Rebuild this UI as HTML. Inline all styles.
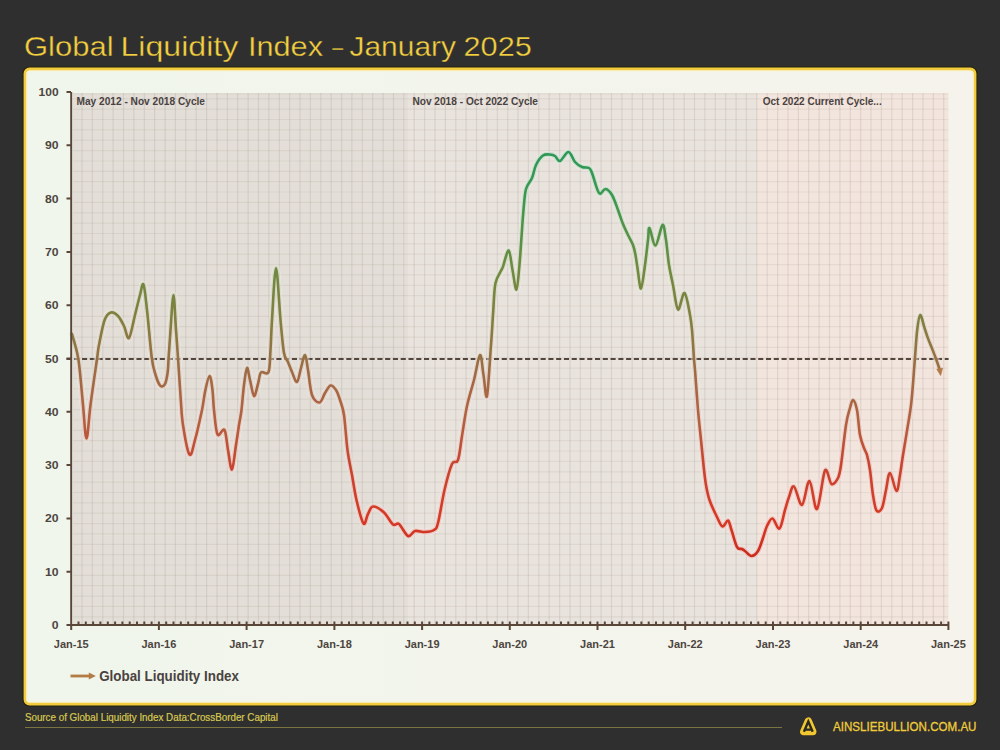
<!DOCTYPE html>
<html><head><meta charset="utf-8">
<style>
html,body{margin:0;padding:0;width:1000px;height:750px;overflow:hidden;background:#2f2f2f;}
svg{position:absolute;left:0;top:0;display:block;}
text{font-family:"Liberation Sans",sans-serif;}
</style></head><body>
<svg width="1000" height="750" viewBox="0 0 1000 750">
<defs>
<linearGradient id="pg" x1="0" y1="0" x2="1" y2="0"><stop offset="0" stop-color="#f0f6ec"/><stop offset="0.5" stop-color="#f3f5ec"/><stop offset="1" stop-color="#f5f3ec"/></linearGradient>
<linearGradient id="lg" gradientUnits="userSpaceOnUse" x1="0" y1="92.0" x2="0" y2="625.0">
<stop offset="0.10" stop-color="#2a9858"/>
<stop offset="0.20" stop-color="#3c9850"/>
<stop offset="0.33" stop-color="#6f8a40"/>
<stop offset="0.42" stop-color="#808040"/>
<stop offset="0.53" stop-color="#a06a45"/>
<stop offset="0.62" stop-color="#b46040"/>
<stop offset="0.70" stop-color="#c84430"/>
<stop offset="0.80" stop-color="#d63a26"/>
<stop offset="0.88" stop-color="#c82a1c"/>
</linearGradient>
</defs>
<g font-size="28" fill="#f4d040" stroke="#2f2f2f" stroke-width="0.35">
<text x="24.0" y="55.5" textLength="89.6" lengthAdjust="spacingAndGlyphs">Global</text>
<text x="120.4" y="55.5" textLength="118" lengthAdjust="spacingAndGlyphs">Liquidity</text>
<text x="247.9" y="55.5" textLength="75.2" lengthAdjust="spacingAndGlyphs">Index</text>
<text x="332.2" y="55.5" textLength="10.9" lengthAdjust="spacingAndGlyphs">–</text>
<text x="349.5" y="55.5" textLength="106.5" lengthAdjust="spacingAndGlyphs">January</text>
<text x="463.5" y="55.5" textLength="68.3" lengthAdjust="spacingAndGlyphs">2025</text>
</g>
<rect x="25" y="69" width="950" height="635" rx="4.5" fill="none" stroke="#25230c" stroke-width="5"/>
<rect x="25" y="69" width="950" height="635" rx="4.5" fill="url(#pg)" stroke="#f2cc3c" stroke-width="2.8"/>
<rect x="27" y="71" width="946" height="631" rx="3" fill="none" stroke="#fbf3cf" stroke-width="1.2"/>
<rect x="73" y="93" width="335" height="532" fill="#e3dfd8"/>
<rect x="408" y="93" width="349" height="532" fill="#e9e3dd"/>
<rect x="757" y="93" width="191.4" height="532" fill="#f2e5dd"/>
<path d="M82.0,93V625M92.4,93V625M102.8,93V625M113.1,93V625M123.5,93V625M133.9,93V625M144.3,93V625M154.7,93V625M165.1,93V625M175.4,93V625M185.8,93V625M196.2,93V625M206.6,93V625M217.0,93V625M227.3,93V625M237.7,93V625M248.1,93V625M258.5,93V625M268.9,93V625M279.3,93V625M289.6,93V625M300.0,93V625M310.4,93V625M320.8,93V625M331.2,93V625M341.6,93V625M351.9,93V625M362.3,93V625M372.7,93V625M383.1,93V625M393.5,93V625M403.8,93V625M414.2,93V625M424.6,93V625M435.0,93V625M445.4,93V625M455.8,93V625M466.1,93V625M476.5,93V625M486.9,93V625M497.3,93V625M507.7,93V625M518.0,93V625M528.4,93V625M538.8,93V625M549.2,93V625M559.6,93V625M570.0,93V625M580.3,93V625M590.7,93V625M601.1,93V625M611.5,93V625M621.9,93V625M632.2,93V625M642.6,93V625M653.0,93V625M663.4,93V625M673.8,93V625M684.2,93V625M694.5,93V625M704.9,93V625M715.3,93V625M725.7,93V625M736.1,93V625M746.4,93V625M756.8,93V625M767.2,93V625M777.6,93V625M788.0,93V625M798.4,93V625M808.7,93V625M819.1,93V625M829.5,93V625M839.9,93V625M850.3,93V625M860.7,93V625M871.0,93V625M881.4,93V625M891.8,93V625M902.2,93V625M912.6,93V625M922.9,93V625M933.3,93V625M943.7,93V625" stroke="#705850" stroke-width="1.2" fill="none" opacity="0.125"/>
<path d="M73,616.8H948.4M73,606.4H948.4M73,596.1H948.4M73,585.7H948.4M73,575.4H948.4M73,565.0H948.4M73,554.6H948.4M73,544.3H948.4M73,533.9H948.4M73,523.6H948.4M73,513.2H948.4M73,502.8H948.4M73,492.5H948.4M73,482.1H948.4M73,471.8H948.4M73,461.4H948.4M73,451.0H948.4M73,440.7H948.4M73,430.3H948.4M73,420.0H948.4M73,409.6H948.4M73,399.2H948.4M73,388.9H948.4M73,378.5H948.4M73,368.2H948.4M73,357.8H948.4M73,347.4H948.4M73,337.1H948.4M73,326.7H948.4M73,316.4H948.4M73,306.0H948.4M73,295.6H948.4M73,285.3H948.4M73,274.9H948.4M73,264.6H948.4M73,254.2H948.4M73,243.8H948.4M73,233.5H948.4M73,223.1H948.4M73,212.8H948.4M73,202.4H948.4M73,192.0H948.4M73,181.7H948.4M73,171.3H948.4M73,161.0H948.4M73,150.6H948.4M73,140.2H948.4M73,129.9H948.4M73,119.5H948.4M73,109.2H948.4M73,98.8H948.4M73,94H948.4" stroke="#705850" stroke-width="1.2" fill="none" opacity="0.09"/>
<g font-size="10.5" font-weight="bold" fill="#4a4240">
<text x="76.5" y="104.7" textLength="128.5" lengthAdjust="spacingAndGlyphs">May 2012 - Nov 2018 Cycle</text>
<text x="412.4" y="104.7" textLength="125.6" lengthAdjust="spacingAndGlyphs">Nov 2018 - Oct 2022 Cycle</text>
<text x="762.7" y="104.7" textLength="119" lengthAdjust="spacingAndGlyphs">Oct 2022 Current Cycle...</text>
</g>
<path d="M66.5,359H948.6" stroke="#54463c" stroke-width="2.1" stroke-dasharray="5.1 2.672" fill="none"/>
<path d="M72.0,334.0 C73.1,338.3 76.7,348.2 78.5,360.0 C80.3,371.8 81.7,391.9 83.0,405.0 C84.3,418.1 85.2,438.5 86.5,438.5 C87.8,438.5 88.8,418.2 90.5,405.0 C92.2,391.8 95.6,369.0 97.0,359.0 C98.4,349.0 97.7,351.5 99.0,345.0 C100.3,338.5 102.6,325.4 104.6,320.0 C106.6,314.6 108.8,313.2 111.0,312.5 C113.2,311.8 115.8,313.8 118.0,316.0 C120.2,318.2 122.2,322.3 124.0,326.0 C125.8,329.7 127.2,339.8 129.0,338.0 C130.8,336.2 133.2,322.2 135.0,315.0 C136.8,307.8 138.6,300.1 140.0,295.0 C141.4,289.9 142.3,282.0 143.5,284.5 C144.7,287.0 145.6,297.8 147.0,310.0 C148.4,322.2 150.4,347.2 151.8,358.0 C153.2,368.8 154.2,370.4 155.6,375.0 C157.0,379.6 158.6,384.1 160.2,385.6 C161.8,387.1 163.7,386.5 164.9,384.2 C166.2,381.9 167.1,376.4 167.7,372.0 C168.3,367.6 168.1,365.0 168.6,358.0 C169.1,351.0 169.7,340.5 170.5,330.0 C171.3,319.5 172.6,295.0 173.5,295.0 C174.4,295.0 175.2,319.5 176.0,330.0 C176.8,340.5 177.2,346.3 178.0,358.0 C178.8,369.7 180.0,388.8 180.8,400.0 C181.6,411.2 181.6,415.9 183.0,425.0 C184.4,434.1 187.5,452.0 189.5,454.5 C191.5,457.0 192.9,447.4 195.0,440.0 C197.1,432.6 200.3,418.0 202.0,410.0 C203.7,402.0 203.8,397.7 205.0,392.0 C206.2,386.3 208.2,376.3 209.5,376.0 C210.8,375.7 211.8,384.3 212.5,390.0 C213.2,395.7 213.2,402.6 214.0,410.0 C214.8,417.4 215.8,431.2 217.5,434.5 C219.2,437.8 222.8,427.4 224.5,430.0 C226.2,432.6 226.8,443.4 228.0,450.0 C229.2,456.6 230.7,470.3 232.0,469.5 C233.3,468.7 234.8,452.4 236.0,445.0 C237.2,437.6 238.1,430.8 239.0,425.0 C239.9,419.2 240.7,416.7 241.5,410.0 C242.3,403.3 243.1,392.0 244.0,385.0 C244.9,378.0 246.0,368.8 247.0,368.0 C248.0,367.2 248.8,375.3 250.0,380.0 C251.2,384.7 252.7,395.3 254.0,396.0 C255.3,396.7 256.8,387.9 258.0,384.0 C259.2,380.1 259.2,374.5 261.0,372.5 C262.8,370.5 266.9,375.8 268.5,372.0 C270.1,368.2 269.9,358.7 270.5,350.0 C271.1,341.3 271.1,333.7 272.0,320.0 C272.9,306.3 274.6,268.0 276.0,268.0 C277.4,268.0 279.2,305.8 280.5,320.0 C281.8,334.2 282.8,346.0 284.0,353.0 C285.2,360.0 286.7,358.8 288.0,362.0 C289.3,365.2 290.5,368.7 292.0,372.0 C293.5,375.3 295.5,382.7 297.0,382.0 C298.5,381.3 299.7,372.5 301.0,368.0 C302.3,363.5 303.8,354.7 305.0,355.0 C306.2,355.3 306.8,363.3 308.0,370.0 C309.2,376.7 310.1,389.6 312.0,395.0 C313.9,400.4 317.3,402.8 319.5,402.5 C321.7,402.2 323.2,395.8 325.0,393.0 C326.8,390.2 328.7,386.0 330.5,385.5 C332.3,385.0 334.4,387.6 336.0,390.0 C337.6,392.4 338.7,395.8 340.0,400.0 C341.3,404.2 342.8,406.7 344.0,415.0 C345.2,423.3 346.2,440.0 347.5,450.0 C348.8,460.0 350.5,466.7 352.0,475.0 C353.5,483.3 354.6,491.9 356.5,500.0 C358.4,508.1 361.6,521.2 363.5,523.5 C365.4,525.8 366.4,516.8 368.0,514.0 C369.6,511.2 370.3,506.8 373.0,506.5 C375.7,506.2 380.7,509.5 384.0,512.5 C387.3,515.5 390.5,522.6 393.0,524.5 C395.5,526.4 396.5,522.1 399.0,524.0 C401.5,525.9 405.3,534.8 408.0,536.0 C410.7,537.2 412.2,531.7 415.0,531.0 C417.8,530.3 421.8,532.2 425.0,532.0 C428.2,531.8 431.8,531.5 434.0,530.0 C436.2,528.5 436.2,529.7 438.0,523.0 C439.8,516.3 442.2,499.8 444.5,490.0 C446.8,480.2 449.8,469.0 452.0,464.0 C454.2,459.0 456.3,464.7 458.0,460.0 C459.7,455.3 460.5,445.0 462.0,436.0 C463.5,427.0 465.0,415.3 467.0,406.0 C469.0,396.7 471.8,388.5 474.0,380.0 C476.2,371.5 478.4,355.8 480.0,355.0 C481.6,354.2 482.3,368.2 483.5,375.0 C484.7,381.8 485.8,401.0 487.0,396.0 C488.2,391.0 489.9,359.3 491.0,345.0 C492.1,330.7 492.6,320.3 493.3,310.0 C494.0,299.7 494.1,289.9 495.4,283.4 C496.7,276.9 499.7,273.6 501.0,270.8 C502.3,268.0 501.7,270.0 503.0,266.6 C504.3,263.2 507.1,249.9 508.7,250.5 C510.3,251.1 511.2,263.5 512.5,270.0 C513.8,276.5 515.3,290.0 516.4,289.7 C517.5,289.4 518.4,276.3 519.2,268.0 C520.0,259.7 520.6,249.7 521.3,240.0 C522.0,230.3 522.7,218.5 523.5,210.0 C524.3,201.5 524.6,194.3 526.0,189.0 C527.4,183.7 530.3,182.0 532.0,178.0 C533.7,174.0 534.2,168.8 536.0,165.0 C537.8,161.2 540.7,157.2 543.0,155.5 C545.3,153.8 548.0,154.4 550.0,154.5 C552.0,154.6 553.3,154.9 555.0,156.0 C556.7,157.1 557.8,161.7 560.0,161.0 C562.2,160.3 566.0,151.8 568.5,152.0 C571.0,152.2 572.8,159.5 575.0,162.0 C577.2,164.5 579.7,166.0 582.0,167.0 C584.3,168.0 587.3,167.0 589.0,168.0 C590.7,169.0 590.3,168.8 592.0,173.0 C593.7,177.2 596.8,190.3 599.0,193.0 C601.2,195.7 603.3,188.7 605.5,189.0 C607.7,189.3 609.9,191.5 612.0,195.0 C614.1,198.5 616.2,205.2 618.0,210.0 C619.8,214.8 621.3,219.8 623.0,224.0 C624.7,228.2 626.3,231.5 628.0,235.0 C629.7,238.5 631.8,241.7 633.0,245.0 C634.2,248.3 634.8,251.2 635.5,255.0 C636.2,258.8 636.6,262.4 637.5,268.0 C638.4,273.6 639.8,289.0 641.0,288.5 C642.2,288.0 643.8,273.1 645.0,265.0 C646.2,256.9 647.2,246.2 648.0,240.0 C648.8,233.8 648.2,227.1 649.5,228.0 C650.8,228.9 653.3,246.0 655.5,245.5 C657.7,245.0 660.8,225.9 662.5,225.0 C664.2,224.1 664.9,233.3 666.0,240.0 C667.1,246.7 667.8,257.5 669.0,265.0 C670.2,272.5 671.5,277.6 673.0,285.0 C674.5,292.4 676.1,308.2 678.0,309.5 C679.9,310.8 682.5,292.1 684.5,293.0 C686.5,293.9 688.8,308.8 690.0,315.0 C691.2,321.2 691.3,322.7 692.0,330.0 C692.7,337.3 693.5,352.3 694.0,359.0 C694.5,365.7 694.3,361.5 695.0,370.0 C695.7,378.5 697.0,398.3 698.0,410.0 C699.0,421.7 700.1,430.8 701.0,440.0 C701.9,449.2 702.7,457.5 703.5,465.0 C704.3,472.5 705.0,479.2 706.0,485.0 C707.0,490.8 707.7,494.7 709.5,500.0 C711.3,505.3 714.8,512.6 717.0,517.0 C719.2,521.4 720.7,525.9 722.5,526.5 C724.3,527.1 726.5,519.9 728.0,520.5 C729.5,521.1 730.0,525.6 731.5,530.0 C733.0,534.4 735.2,543.8 737.0,547.0 C738.8,550.2 740.7,548.3 742.0,549.0 C743.3,549.7 743.4,549.8 745.0,551.0 C746.6,552.2 749.3,556.0 751.5,556.0 C753.7,556.0 756.1,554.0 758.0,551.0 C759.9,548.0 761.5,542.2 763.0,538.0 C764.5,533.8 765.4,529.2 767.0,526.0 C768.6,522.8 770.4,518.1 772.5,518.5 C774.6,518.9 777.4,529.9 779.5,528.5 C781.6,527.1 783.4,515.2 785.0,510.0 C786.6,504.8 787.5,500.9 789.0,497.0 C790.5,493.1 791.8,485.2 794.0,486.5 C796.2,487.8 799.4,505.9 802.0,505.0 C804.6,504.1 807.0,480.3 809.5,481.0 C812.0,481.7 814.4,510.8 817.0,509.0 C819.6,507.2 822.6,474.7 825.0,470.5 C827.4,466.3 829.3,482.8 831.5,484.0 C833.7,485.2 836.4,481.2 838.0,478.0 C839.6,474.8 839.7,473.8 841.0,465.0 C842.3,456.2 844.5,434.5 846.0,425.0 C847.5,415.5 848.8,412.2 850.0,408.0 C851.2,403.8 851.8,399.7 853.0,400.0 C854.2,400.3 855.8,404.2 857.0,410.0 C858.2,415.8 858.8,428.7 860.0,435.0 C861.2,441.3 862.8,444.7 864.0,448.0 C865.2,451.3 866.0,451.3 867.0,455.0 C868.0,458.7 869.0,463.3 870.0,470.0 C871.0,476.7 871.9,488.2 873.0,495.0 C874.1,501.8 875.0,508.3 876.5,510.5 C878.0,512.7 880.4,511.4 882.0,508.0 C883.6,504.6 884.7,495.8 886.0,490.0 C887.3,484.2 888.2,472.8 890.0,473.0 C891.8,473.2 894.8,490.7 896.5,491.0 C898.2,491.3 898.9,481.0 900.0,475.0 C901.1,469.0 901.4,465.0 903.0,455.0 C904.6,445.0 908.1,424.5 909.6,415.0 C911.1,405.5 910.9,407.2 911.8,398.0 C912.7,388.8 913.9,371.3 914.8,360.0 C915.7,348.7 916.3,337.5 917.2,330.0 C918.1,322.5 919.0,315.4 920.2,315.0 C921.4,314.6 923.1,323.7 924.4,327.6 C925.7,331.5 926.6,334.6 928.0,338.4 C929.4,342.2 931.4,346.8 932.8,350.4 C934.2,354.0 935.3,356.9 936.4,360.0 C937.5,363.1 939.0,367.5 939.5,369.0" stroke="#ffffff" stroke-width="6.5" fill="none" stroke-linejoin="round" stroke-linecap="round" opacity="0.45"/>
<path d="M72.0,334.0 C73.1,338.3 76.7,348.2 78.5,360.0 C80.3,371.8 81.7,391.9 83.0,405.0 C84.3,418.1 85.2,438.5 86.5,438.5 C87.8,438.5 88.8,418.2 90.5,405.0 C92.2,391.8 95.6,369.0 97.0,359.0 C98.4,349.0 97.7,351.5 99.0,345.0 C100.3,338.5 102.6,325.4 104.6,320.0 C106.6,314.6 108.8,313.2 111.0,312.5 C113.2,311.8 115.8,313.8 118.0,316.0 C120.2,318.2 122.2,322.3 124.0,326.0 C125.8,329.7 127.2,339.8 129.0,338.0 C130.8,336.2 133.2,322.2 135.0,315.0 C136.8,307.8 138.6,300.1 140.0,295.0 C141.4,289.9 142.3,282.0 143.5,284.5 C144.7,287.0 145.6,297.8 147.0,310.0 C148.4,322.2 150.4,347.2 151.8,358.0 C153.2,368.8 154.2,370.4 155.6,375.0 C157.0,379.6 158.6,384.1 160.2,385.6 C161.8,387.1 163.7,386.5 164.9,384.2 C166.2,381.9 167.1,376.4 167.7,372.0 C168.3,367.6 168.1,365.0 168.6,358.0 C169.1,351.0 169.7,340.5 170.5,330.0 C171.3,319.5 172.6,295.0 173.5,295.0 C174.4,295.0 175.2,319.5 176.0,330.0 C176.8,340.5 177.2,346.3 178.0,358.0 C178.8,369.7 180.0,388.8 180.8,400.0 C181.6,411.2 181.6,415.9 183.0,425.0 C184.4,434.1 187.5,452.0 189.5,454.5 C191.5,457.0 192.9,447.4 195.0,440.0 C197.1,432.6 200.3,418.0 202.0,410.0 C203.7,402.0 203.8,397.7 205.0,392.0 C206.2,386.3 208.2,376.3 209.5,376.0 C210.8,375.7 211.8,384.3 212.5,390.0 C213.2,395.7 213.2,402.6 214.0,410.0 C214.8,417.4 215.8,431.2 217.5,434.5 C219.2,437.8 222.8,427.4 224.5,430.0 C226.2,432.6 226.8,443.4 228.0,450.0 C229.2,456.6 230.7,470.3 232.0,469.5 C233.3,468.7 234.8,452.4 236.0,445.0 C237.2,437.6 238.1,430.8 239.0,425.0 C239.9,419.2 240.7,416.7 241.5,410.0 C242.3,403.3 243.1,392.0 244.0,385.0 C244.9,378.0 246.0,368.8 247.0,368.0 C248.0,367.2 248.8,375.3 250.0,380.0 C251.2,384.7 252.7,395.3 254.0,396.0 C255.3,396.7 256.8,387.9 258.0,384.0 C259.2,380.1 259.2,374.5 261.0,372.5 C262.8,370.5 266.9,375.8 268.5,372.0 C270.1,368.2 269.9,358.7 270.5,350.0 C271.1,341.3 271.1,333.7 272.0,320.0 C272.9,306.3 274.6,268.0 276.0,268.0 C277.4,268.0 279.2,305.8 280.5,320.0 C281.8,334.2 282.8,346.0 284.0,353.0 C285.2,360.0 286.7,358.8 288.0,362.0 C289.3,365.2 290.5,368.7 292.0,372.0 C293.5,375.3 295.5,382.7 297.0,382.0 C298.5,381.3 299.7,372.5 301.0,368.0 C302.3,363.5 303.8,354.7 305.0,355.0 C306.2,355.3 306.8,363.3 308.0,370.0 C309.2,376.7 310.1,389.6 312.0,395.0 C313.9,400.4 317.3,402.8 319.5,402.5 C321.7,402.2 323.2,395.8 325.0,393.0 C326.8,390.2 328.7,386.0 330.5,385.5 C332.3,385.0 334.4,387.6 336.0,390.0 C337.6,392.4 338.7,395.8 340.0,400.0 C341.3,404.2 342.8,406.7 344.0,415.0 C345.2,423.3 346.2,440.0 347.5,450.0 C348.8,460.0 350.5,466.7 352.0,475.0 C353.5,483.3 354.6,491.9 356.5,500.0 C358.4,508.1 361.6,521.2 363.5,523.5 C365.4,525.8 366.4,516.8 368.0,514.0 C369.6,511.2 370.3,506.8 373.0,506.5 C375.7,506.2 380.7,509.5 384.0,512.5 C387.3,515.5 390.5,522.6 393.0,524.5 C395.5,526.4 396.5,522.1 399.0,524.0 C401.5,525.9 405.3,534.8 408.0,536.0 C410.7,537.2 412.2,531.7 415.0,531.0 C417.8,530.3 421.8,532.2 425.0,532.0 C428.2,531.8 431.8,531.5 434.0,530.0 C436.2,528.5 436.2,529.7 438.0,523.0 C439.8,516.3 442.2,499.8 444.5,490.0 C446.8,480.2 449.8,469.0 452.0,464.0 C454.2,459.0 456.3,464.7 458.0,460.0 C459.7,455.3 460.5,445.0 462.0,436.0 C463.5,427.0 465.0,415.3 467.0,406.0 C469.0,396.7 471.8,388.5 474.0,380.0 C476.2,371.5 478.4,355.8 480.0,355.0 C481.6,354.2 482.3,368.2 483.5,375.0 C484.7,381.8 485.8,401.0 487.0,396.0 C488.2,391.0 489.9,359.3 491.0,345.0 C492.1,330.7 492.6,320.3 493.3,310.0 C494.0,299.7 494.1,289.9 495.4,283.4 C496.7,276.9 499.7,273.6 501.0,270.8 C502.3,268.0 501.7,270.0 503.0,266.6 C504.3,263.2 507.1,249.9 508.7,250.5 C510.3,251.1 511.2,263.5 512.5,270.0 C513.8,276.5 515.3,290.0 516.4,289.7 C517.5,289.4 518.4,276.3 519.2,268.0 C520.0,259.7 520.6,249.7 521.3,240.0 C522.0,230.3 522.7,218.5 523.5,210.0 C524.3,201.5 524.6,194.3 526.0,189.0 C527.4,183.7 530.3,182.0 532.0,178.0 C533.7,174.0 534.2,168.8 536.0,165.0 C537.8,161.2 540.7,157.2 543.0,155.5 C545.3,153.8 548.0,154.4 550.0,154.5 C552.0,154.6 553.3,154.9 555.0,156.0 C556.7,157.1 557.8,161.7 560.0,161.0 C562.2,160.3 566.0,151.8 568.5,152.0 C571.0,152.2 572.8,159.5 575.0,162.0 C577.2,164.5 579.7,166.0 582.0,167.0 C584.3,168.0 587.3,167.0 589.0,168.0 C590.7,169.0 590.3,168.8 592.0,173.0 C593.7,177.2 596.8,190.3 599.0,193.0 C601.2,195.7 603.3,188.7 605.5,189.0 C607.7,189.3 609.9,191.5 612.0,195.0 C614.1,198.5 616.2,205.2 618.0,210.0 C619.8,214.8 621.3,219.8 623.0,224.0 C624.7,228.2 626.3,231.5 628.0,235.0 C629.7,238.5 631.8,241.7 633.0,245.0 C634.2,248.3 634.8,251.2 635.5,255.0 C636.2,258.8 636.6,262.4 637.5,268.0 C638.4,273.6 639.8,289.0 641.0,288.5 C642.2,288.0 643.8,273.1 645.0,265.0 C646.2,256.9 647.2,246.2 648.0,240.0 C648.8,233.8 648.2,227.1 649.5,228.0 C650.8,228.9 653.3,246.0 655.5,245.5 C657.7,245.0 660.8,225.9 662.5,225.0 C664.2,224.1 664.9,233.3 666.0,240.0 C667.1,246.7 667.8,257.5 669.0,265.0 C670.2,272.5 671.5,277.6 673.0,285.0 C674.5,292.4 676.1,308.2 678.0,309.5 C679.9,310.8 682.5,292.1 684.5,293.0 C686.5,293.9 688.8,308.8 690.0,315.0 C691.2,321.2 691.3,322.7 692.0,330.0 C692.7,337.3 693.5,352.3 694.0,359.0 C694.5,365.7 694.3,361.5 695.0,370.0 C695.7,378.5 697.0,398.3 698.0,410.0 C699.0,421.7 700.1,430.8 701.0,440.0 C701.9,449.2 702.7,457.5 703.5,465.0 C704.3,472.5 705.0,479.2 706.0,485.0 C707.0,490.8 707.7,494.7 709.5,500.0 C711.3,505.3 714.8,512.6 717.0,517.0 C719.2,521.4 720.7,525.9 722.5,526.5 C724.3,527.1 726.5,519.9 728.0,520.5 C729.5,521.1 730.0,525.6 731.5,530.0 C733.0,534.4 735.2,543.8 737.0,547.0 C738.8,550.2 740.7,548.3 742.0,549.0 C743.3,549.7 743.4,549.8 745.0,551.0 C746.6,552.2 749.3,556.0 751.5,556.0 C753.7,556.0 756.1,554.0 758.0,551.0 C759.9,548.0 761.5,542.2 763.0,538.0 C764.5,533.8 765.4,529.2 767.0,526.0 C768.6,522.8 770.4,518.1 772.5,518.5 C774.6,518.9 777.4,529.9 779.5,528.5 C781.6,527.1 783.4,515.2 785.0,510.0 C786.6,504.8 787.5,500.9 789.0,497.0 C790.5,493.1 791.8,485.2 794.0,486.5 C796.2,487.8 799.4,505.9 802.0,505.0 C804.6,504.1 807.0,480.3 809.5,481.0 C812.0,481.7 814.4,510.8 817.0,509.0 C819.6,507.2 822.6,474.7 825.0,470.5 C827.4,466.3 829.3,482.8 831.5,484.0 C833.7,485.2 836.4,481.2 838.0,478.0 C839.6,474.8 839.7,473.8 841.0,465.0 C842.3,456.2 844.5,434.5 846.0,425.0 C847.5,415.5 848.8,412.2 850.0,408.0 C851.2,403.8 851.8,399.7 853.0,400.0 C854.2,400.3 855.8,404.2 857.0,410.0 C858.2,415.8 858.8,428.7 860.0,435.0 C861.2,441.3 862.8,444.7 864.0,448.0 C865.2,451.3 866.0,451.3 867.0,455.0 C868.0,458.7 869.0,463.3 870.0,470.0 C871.0,476.7 871.9,488.2 873.0,495.0 C874.1,501.8 875.0,508.3 876.5,510.5 C878.0,512.7 880.4,511.4 882.0,508.0 C883.6,504.6 884.7,495.8 886.0,490.0 C887.3,484.2 888.2,472.8 890.0,473.0 C891.8,473.2 894.8,490.7 896.5,491.0 C898.2,491.3 898.9,481.0 900.0,475.0 C901.1,469.0 901.4,465.0 903.0,455.0 C904.6,445.0 908.1,424.5 909.6,415.0 C911.1,405.5 910.9,407.2 911.8,398.0 C912.7,388.8 913.9,371.3 914.8,360.0 C915.7,348.7 916.3,337.5 917.2,330.0 C918.1,322.5 919.0,315.4 920.2,315.0 C921.4,314.6 923.1,323.7 924.4,327.6 C925.7,331.5 926.6,334.6 928.0,338.4 C929.4,342.2 931.4,346.8 932.8,350.4 C934.2,354.0 935.3,356.9 936.4,360.0 C937.5,363.1 939.0,367.5 939.5,369.0" stroke="url(#lg)" stroke-width="5.5" fill="none" stroke-linejoin="round" stroke-linecap="round" opacity="0.18"/>
<path d="M72.0,334.0 C73.1,338.3 76.7,348.2 78.5,360.0 C80.3,371.8 81.7,391.9 83.0,405.0 C84.3,418.1 85.2,438.5 86.5,438.5 C87.8,438.5 88.8,418.2 90.5,405.0 C92.2,391.8 95.6,369.0 97.0,359.0 C98.4,349.0 97.7,351.5 99.0,345.0 C100.3,338.5 102.6,325.4 104.6,320.0 C106.6,314.6 108.8,313.2 111.0,312.5 C113.2,311.8 115.8,313.8 118.0,316.0 C120.2,318.2 122.2,322.3 124.0,326.0 C125.8,329.7 127.2,339.8 129.0,338.0 C130.8,336.2 133.2,322.2 135.0,315.0 C136.8,307.8 138.6,300.1 140.0,295.0 C141.4,289.9 142.3,282.0 143.5,284.5 C144.7,287.0 145.6,297.8 147.0,310.0 C148.4,322.2 150.4,347.2 151.8,358.0 C153.2,368.8 154.2,370.4 155.6,375.0 C157.0,379.6 158.6,384.1 160.2,385.6 C161.8,387.1 163.7,386.5 164.9,384.2 C166.2,381.9 167.1,376.4 167.7,372.0 C168.3,367.6 168.1,365.0 168.6,358.0 C169.1,351.0 169.7,340.5 170.5,330.0 C171.3,319.5 172.6,295.0 173.5,295.0 C174.4,295.0 175.2,319.5 176.0,330.0 C176.8,340.5 177.2,346.3 178.0,358.0 C178.8,369.7 180.0,388.8 180.8,400.0 C181.6,411.2 181.6,415.9 183.0,425.0 C184.4,434.1 187.5,452.0 189.5,454.5 C191.5,457.0 192.9,447.4 195.0,440.0 C197.1,432.6 200.3,418.0 202.0,410.0 C203.7,402.0 203.8,397.7 205.0,392.0 C206.2,386.3 208.2,376.3 209.5,376.0 C210.8,375.7 211.8,384.3 212.5,390.0 C213.2,395.7 213.2,402.6 214.0,410.0 C214.8,417.4 215.8,431.2 217.5,434.5 C219.2,437.8 222.8,427.4 224.5,430.0 C226.2,432.6 226.8,443.4 228.0,450.0 C229.2,456.6 230.7,470.3 232.0,469.5 C233.3,468.7 234.8,452.4 236.0,445.0 C237.2,437.6 238.1,430.8 239.0,425.0 C239.9,419.2 240.7,416.7 241.5,410.0 C242.3,403.3 243.1,392.0 244.0,385.0 C244.9,378.0 246.0,368.8 247.0,368.0 C248.0,367.2 248.8,375.3 250.0,380.0 C251.2,384.7 252.7,395.3 254.0,396.0 C255.3,396.7 256.8,387.9 258.0,384.0 C259.2,380.1 259.2,374.5 261.0,372.5 C262.8,370.5 266.9,375.8 268.5,372.0 C270.1,368.2 269.9,358.7 270.5,350.0 C271.1,341.3 271.1,333.7 272.0,320.0 C272.9,306.3 274.6,268.0 276.0,268.0 C277.4,268.0 279.2,305.8 280.5,320.0 C281.8,334.2 282.8,346.0 284.0,353.0 C285.2,360.0 286.7,358.8 288.0,362.0 C289.3,365.2 290.5,368.7 292.0,372.0 C293.5,375.3 295.5,382.7 297.0,382.0 C298.5,381.3 299.7,372.5 301.0,368.0 C302.3,363.5 303.8,354.7 305.0,355.0 C306.2,355.3 306.8,363.3 308.0,370.0 C309.2,376.7 310.1,389.6 312.0,395.0 C313.9,400.4 317.3,402.8 319.5,402.5 C321.7,402.2 323.2,395.8 325.0,393.0 C326.8,390.2 328.7,386.0 330.5,385.5 C332.3,385.0 334.4,387.6 336.0,390.0 C337.6,392.4 338.7,395.8 340.0,400.0 C341.3,404.2 342.8,406.7 344.0,415.0 C345.2,423.3 346.2,440.0 347.5,450.0 C348.8,460.0 350.5,466.7 352.0,475.0 C353.5,483.3 354.6,491.9 356.5,500.0 C358.4,508.1 361.6,521.2 363.5,523.5 C365.4,525.8 366.4,516.8 368.0,514.0 C369.6,511.2 370.3,506.8 373.0,506.5 C375.7,506.2 380.7,509.5 384.0,512.5 C387.3,515.5 390.5,522.6 393.0,524.5 C395.5,526.4 396.5,522.1 399.0,524.0 C401.5,525.9 405.3,534.8 408.0,536.0 C410.7,537.2 412.2,531.7 415.0,531.0 C417.8,530.3 421.8,532.2 425.0,532.0 C428.2,531.8 431.8,531.5 434.0,530.0 C436.2,528.5 436.2,529.7 438.0,523.0 C439.8,516.3 442.2,499.8 444.5,490.0 C446.8,480.2 449.8,469.0 452.0,464.0 C454.2,459.0 456.3,464.7 458.0,460.0 C459.7,455.3 460.5,445.0 462.0,436.0 C463.5,427.0 465.0,415.3 467.0,406.0 C469.0,396.7 471.8,388.5 474.0,380.0 C476.2,371.5 478.4,355.8 480.0,355.0 C481.6,354.2 482.3,368.2 483.5,375.0 C484.7,381.8 485.8,401.0 487.0,396.0 C488.2,391.0 489.9,359.3 491.0,345.0 C492.1,330.7 492.6,320.3 493.3,310.0 C494.0,299.7 494.1,289.9 495.4,283.4 C496.7,276.9 499.7,273.6 501.0,270.8 C502.3,268.0 501.7,270.0 503.0,266.6 C504.3,263.2 507.1,249.9 508.7,250.5 C510.3,251.1 511.2,263.5 512.5,270.0 C513.8,276.5 515.3,290.0 516.4,289.7 C517.5,289.4 518.4,276.3 519.2,268.0 C520.0,259.7 520.6,249.7 521.3,240.0 C522.0,230.3 522.7,218.5 523.5,210.0 C524.3,201.5 524.6,194.3 526.0,189.0 C527.4,183.7 530.3,182.0 532.0,178.0 C533.7,174.0 534.2,168.8 536.0,165.0 C537.8,161.2 540.7,157.2 543.0,155.5 C545.3,153.8 548.0,154.4 550.0,154.5 C552.0,154.6 553.3,154.9 555.0,156.0 C556.7,157.1 557.8,161.7 560.0,161.0 C562.2,160.3 566.0,151.8 568.5,152.0 C571.0,152.2 572.8,159.5 575.0,162.0 C577.2,164.5 579.7,166.0 582.0,167.0 C584.3,168.0 587.3,167.0 589.0,168.0 C590.7,169.0 590.3,168.8 592.0,173.0 C593.7,177.2 596.8,190.3 599.0,193.0 C601.2,195.7 603.3,188.7 605.5,189.0 C607.7,189.3 609.9,191.5 612.0,195.0 C614.1,198.5 616.2,205.2 618.0,210.0 C619.8,214.8 621.3,219.8 623.0,224.0 C624.7,228.2 626.3,231.5 628.0,235.0 C629.7,238.5 631.8,241.7 633.0,245.0 C634.2,248.3 634.8,251.2 635.5,255.0 C636.2,258.8 636.6,262.4 637.5,268.0 C638.4,273.6 639.8,289.0 641.0,288.5 C642.2,288.0 643.8,273.1 645.0,265.0 C646.2,256.9 647.2,246.2 648.0,240.0 C648.8,233.8 648.2,227.1 649.5,228.0 C650.8,228.9 653.3,246.0 655.5,245.5 C657.7,245.0 660.8,225.9 662.5,225.0 C664.2,224.1 664.9,233.3 666.0,240.0 C667.1,246.7 667.8,257.5 669.0,265.0 C670.2,272.5 671.5,277.6 673.0,285.0 C674.5,292.4 676.1,308.2 678.0,309.5 C679.9,310.8 682.5,292.1 684.5,293.0 C686.5,293.9 688.8,308.8 690.0,315.0 C691.2,321.2 691.3,322.7 692.0,330.0 C692.7,337.3 693.5,352.3 694.0,359.0 C694.5,365.7 694.3,361.5 695.0,370.0 C695.7,378.5 697.0,398.3 698.0,410.0 C699.0,421.7 700.1,430.8 701.0,440.0 C701.9,449.2 702.7,457.5 703.5,465.0 C704.3,472.5 705.0,479.2 706.0,485.0 C707.0,490.8 707.7,494.7 709.5,500.0 C711.3,505.3 714.8,512.6 717.0,517.0 C719.2,521.4 720.7,525.9 722.5,526.5 C724.3,527.1 726.5,519.9 728.0,520.5 C729.5,521.1 730.0,525.6 731.5,530.0 C733.0,534.4 735.2,543.8 737.0,547.0 C738.8,550.2 740.7,548.3 742.0,549.0 C743.3,549.7 743.4,549.8 745.0,551.0 C746.6,552.2 749.3,556.0 751.5,556.0 C753.7,556.0 756.1,554.0 758.0,551.0 C759.9,548.0 761.5,542.2 763.0,538.0 C764.5,533.8 765.4,529.2 767.0,526.0 C768.6,522.8 770.4,518.1 772.5,518.5 C774.6,518.9 777.4,529.9 779.5,528.5 C781.6,527.1 783.4,515.2 785.0,510.0 C786.6,504.8 787.5,500.9 789.0,497.0 C790.5,493.1 791.8,485.2 794.0,486.5 C796.2,487.8 799.4,505.9 802.0,505.0 C804.6,504.1 807.0,480.3 809.5,481.0 C812.0,481.7 814.4,510.8 817.0,509.0 C819.6,507.2 822.6,474.7 825.0,470.5 C827.4,466.3 829.3,482.8 831.5,484.0 C833.7,485.2 836.4,481.2 838.0,478.0 C839.6,474.8 839.7,473.8 841.0,465.0 C842.3,456.2 844.5,434.5 846.0,425.0 C847.5,415.5 848.8,412.2 850.0,408.0 C851.2,403.8 851.8,399.7 853.0,400.0 C854.2,400.3 855.8,404.2 857.0,410.0 C858.2,415.8 858.8,428.7 860.0,435.0 C861.2,441.3 862.8,444.7 864.0,448.0 C865.2,451.3 866.0,451.3 867.0,455.0 C868.0,458.7 869.0,463.3 870.0,470.0 C871.0,476.7 871.9,488.2 873.0,495.0 C874.1,501.8 875.0,508.3 876.5,510.5 C878.0,512.7 880.4,511.4 882.0,508.0 C883.6,504.6 884.7,495.8 886.0,490.0 C887.3,484.2 888.2,472.8 890.0,473.0 C891.8,473.2 894.8,490.7 896.5,491.0 C898.2,491.3 898.9,481.0 900.0,475.0 C901.1,469.0 901.4,465.0 903.0,455.0 C904.6,445.0 908.1,424.5 909.6,415.0 C911.1,405.5 910.9,407.2 911.8,398.0 C912.7,388.8 913.9,371.3 914.8,360.0 C915.7,348.7 916.3,337.5 917.2,330.0 C918.1,322.5 919.0,315.4 920.2,315.0 C921.4,314.6 923.1,323.7 924.4,327.6 C925.7,331.5 926.6,334.6 928.0,338.4 C929.4,342.2 931.4,346.8 932.8,350.4 C934.2,354.0 935.3,356.9 936.4,360.0 C937.5,363.1 939.0,367.5 939.5,369.0" stroke="url(#lg)" stroke-width="2.6" fill="none" stroke-linejoin="round" stroke-linecap="round"/>
<path d="M936.8,369.2 L940.6,375.4 L942.5,368.2 Z" fill="#b27a48" stroke="#b27a48" stroke-width="0.8" stroke-linejoin="round"/>
<path d="M71.2,92V626 M66.5,625H948.4 M66.5,625.0H71M66.5,571.7H71M66.5,518.4H71M66.5,465.1H71M66.5,411.8H71M66.5,358.5H71M66.5,305.2H71M66.5,251.9H71M66.5,198.6H71M66.5,145.3H71M66.5,92.0H71 M71.2,621.5V630M158.9,621.5V630M246.6,621.5V630M334.4,621.5V630M422.1,621.5V630M509.8,621.5V630M597.5,621.5V630M685.2,621.5V630M773.0,621.5V630M860.7,621.5V630M948.4,621.5V630 M78.5,621.5V625M85.8,621.5V625M93.1,621.5V625M100.4,621.5V625M107.8,621.5V625M115.1,621.5V625M122.4,621.5V625M129.7,621.5V625M137.0,621.5V625M144.3,621.5V625M151.6,621.5V625M166.2,621.5V625M173.5,621.5V625M180.8,621.5V625M188.2,621.5V625M195.5,621.5V625M202.8,621.5V625M210.1,621.5V625M217.4,621.5V625M224.7,621.5V625M232.0,621.5V625M239.3,621.5V625M253.9,621.5V625M261.3,621.5V625M268.6,621.5V625M275.9,621.5V625M283.2,621.5V625M290.5,621.5V625M297.8,621.5V625M305.1,621.5V625M312.4,621.5V625M319.7,621.5V625M327.0,621.5V625M341.7,621.5V625M349.0,621.5V625M356.3,621.5V625M363.6,621.5V625M370.9,621.5V625M378.2,621.5V625M385.5,621.5V625M392.8,621.5V625M400.1,621.5V625M407.5,621.5V625M414.8,621.5V625M429.4,621.5V625M436.7,621.5V625M444.0,621.5V625M451.3,621.5V625M458.6,621.5V625M465.9,621.5V625M473.2,621.5V625M480.6,621.5V625M487.9,621.5V625M495.2,621.5V625M502.5,621.5V625M517.1,621.5V625M524.4,621.5V625M531.7,621.5V625M539.0,621.5V625M546.3,621.5V625M553.7,621.5V625M561.0,621.5V625M568.3,621.5V625M575.6,621.5V625M582.9,621.5V625M590.2,621.5V625M604.8,621.5V625M612.1,621.5V625M619.5,621.5V625M626.8,621.5V625M634.1,621.5V625M641.4,621.5V625M648.7,621.5V625M656.0,621.5V625M663.3,621.5V625M670.6,621.5V625M677.9,621.5V625M692.6,621.5V625M699.9,621.5V625M707.2,621.5V625M714.5,621.5V625M721.8,621.5V625M729.1,621.5V625M736.4,621.5V625M743.7,621.5V625M751.0,621.5V625M758.3,621.5V625M765.7,621.5V625M780.3,621.5V625M787.6,621.5V625M794.9,621.5V625M802.2,621.5V625M809.5,621.5V625M816.8,621.5V625M824.1,621.5V625M831.4,621.5V625M838.8,621.5V625M846.1,621.5V625M853.4,621.5V625M868.0,621.5V625M875.3,621.5V625M882.6,621.5V625M889.9,621.5V625M897.2,621.5V625M904.5,621.5V625M911.8,621.5V625M919.2,621.5V625M926.5,621.5V625M933.8,621.5V625M941.1,621.5V625" stroke="#5a4638" stroke-width="2" fill="none"/>
<g font-size="11.5" font-weight="bold" fill="#4d4540"><text x="51.8" y="629.0" textLength="6.8" lengthAdjust="spacingAndGlyphs">0</text><text x="45.0" y="575.7" textLength="13.6" lengthAdjust="spacingAndGlyphs">10</text><text x="45.0" y="522.4" textLength="13.6" lengthAdjust="spacingAndGlyphs">20</text><text x="45.0" y="469.1" textLength="13.6" lengthAdjust="spacingAndGlyphs">30</text><text x="45.0" y="415.8" textLength="13.6" lengthAdjust="spacingAndGlyphs">40</text><text x="45.0" y="362.5" textLength="13.6" lengthAdjust="spacingAndGlyphs">50</text><text x="45.0" y="309.2" textLength="13.6" lengthAdjust="spacingAndGlyphs">60</text><text x="45.0" y="255.9" textLength="13.6" lengthAdjust="spacingAndGlyphs">70</text><text x="45.0" y="202.6" textLength="13.6" lengthAdjust="spacingAndGlyphs">80</text><text x="45.0" y="149.3" textLength="13.6" lengthAdjust="spacingAndGlyphs">90</text><text x="38.6" y="96.0" textLength="20.0" lengthAdjust="spacingAndGlyphs">100</text></g>
<g font-size="11" font-weight="bold" fill="#4d4540" text-anchor="middle"><text x="71.2" y="648">Jan-15</text><text x="158.9" y="648">Jan-16</text><text x="246.6" y="648">Jan-17</text><text x="334.4" y="648">Jan-18</text><text x="422.1" y="648">Jan-19</text><text x="509.8" y="648">Jan-20</text><text x="597.5" y="648">Jan-21</text><text x="685.2" y="648">Jan-22</text><text x="773.0" y="648">Jan-23</text><text x="860.7" y="648">Jan-24</text><text x="948.4" y="648">Jan-25</text></g>
<path d="M70.5,676H90" stroke="#b27c44" stroke-width="2.8"/>
<path d="M88.8,672.5 L95.8,676 L88.8,679.5 Z" fill="#b27c44"/>
<text x="99.2" y="681.2" font-size="14" font-weight="bold" fill="#4a4240" textLength="139.8" lengthAdjust="spacingAndGlyphs">Global Liquidity Index</text>
<text x="24.9" y="720.8" font-size="10.5" fill="#d8ca50" stroke="#d8ca50" stroke-width="0.2" textLength="253" lengthAdjust="spacingAndGlyphs">Source of Global Liquidity Index Data:CrossBorder Capital</text>
<path d="M25,727.5H782" stroke="#7a7440" stroke-width="1"/>
<path d="M808.3,721 L803.7,731.6 L812.9,731.6 Z" fill="#f2c830" stroke="#f2c830" stroke-width="7.2" stroke-linejoin="round"/>
<path d="M803.9,731.8 L808.3,721.6 L812.7,731.8 M805.4,729.6 H811.2" stroke="#2a2a22" stroke-width="2.4" fill="none" stroke-linejoin="miter"/>
<text x="833.0" y="731.3" font-size="12" fill="#f0cc3a" stroke="#f0cc3a" stroke-width="0.3" textLength="143.5" lengthAdjust="spacingAndGlyphs">AINSLIEBULLION.COM.AU</text>
</svg>
</body></html>
